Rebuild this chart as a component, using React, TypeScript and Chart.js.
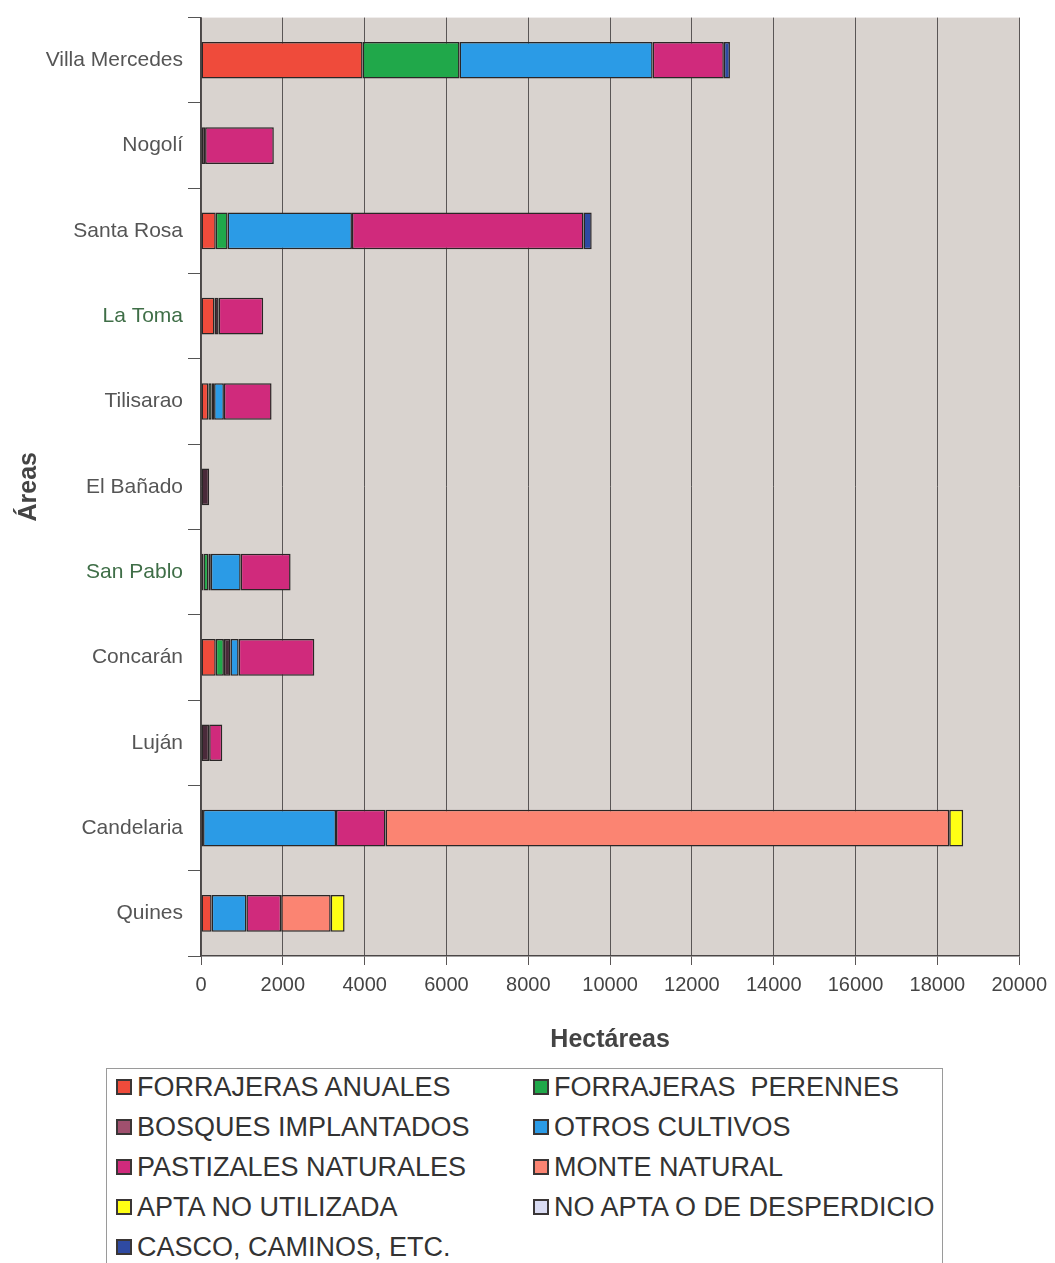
import { useEffect, useRef } from 'react';
import { Chart, registerables } from 'chart.js';

Chart.register(...registerables);

const areas = ['Villa Mercedes', 'Nogolí', 'Santa Rosa', 'La Toma', 'Tilisarao', 'El Bañado', 'San Pablo', 'Concarán', 'Luján', 'Candelaria', 'Quines'];
const greenLabels = ['La Toma', 'San Pablo'];

const forrajerasAnuales = [3950, 0, 360, 330, 180, 0, 60, 360, 0, 50, 260];
const forrajerasPerennes = [2370, 0, 290, 0, 80, 0, 120, 200, 0, 0, 0];
const bosquesImplantados = [0, 100, 0, 100, 60, 200, 60, 160, 200, 0, 0];
const otrosCultivos = [4720, 0, 3040, 0, 240, 0, 730, 200, 0, 3250, 850];
const pastizalesNaturales = [1740, 1680, 5660, 1090, 1165, 0, 1220, 1850, 320, 1210, 850];
const monteNatural = [0, 0, 0, 0, 0, 0, 0, 0, 0, 13780, 1210];
const aptaNoUtilizada = [0, 0, 0, 0, 0, 0, 0, 0, 0, 340, 340];
const noAptaDesperdicio = [0, 0, 0, 0, 0, 0, 0, 0, 0, 0, 0];
const cascoCaminos = [150, 0, 200, 0, 0, 0, 0, 0, 0, 0, 0];

const xMin = 0;
const xMax = 20000;
const xStep = 2000;

const seriesNames = [
  'FORRAJERAS ANUALES',
  'FORRAJERAS  PERENNES',
  'BOSQUES IMPLANTADOS',
  'OTROS CULTIVOS',
  'PASTIZALES NATURALES',
  'MONTE NATURAL',
  'APTA NO UTILIZADA',
  'NO APTA O DE DESPERDICIO',
  'CASCO, CAMINOS, ETC.',
];
const seriesValues = [
  forrajerasAnuales,
  forrajerasPerennes,
  bosquesImplantados,
  otrosCultivos,
  pastizalesNaturales,
  monteNatural,
  aptaNoUtilizada,
  noAptaDesperdicio,
  cascoCaminos,
];
const barColors = ['#ef4b3b', '#20a84a', '#4a2a3a', '#2b9be6', '#d02a7c', '#fb8472', '#ffff14', '#d9dbf2', '#2f4aa2'];
const legendColors = ['#ef4b3b', '#20a84a', '#a0506e', '#2b9be6', '#d02a7c', '#fb8472', '#ffff14', '#d9dbf2', '#2f4aa2'];

const FONT = '"Liberation Sans", Arial, Helvetica, sans-serif';
const CANVAS_H = 1060;

const plotBg = {
  id: 'plotBg',
  beforeDraw(chart: any) {
    const { ctx, chartArea } = chart;
    ctx.save();
    ctx.fillStyle = '#d9d3cf';
    ctx.fillRect(chartArea.left, chartArea.top, chartArea.right - chartArea.left, chartArea.bottom - chartArea.top);
    ctx.restore();
  },
};

export default function App() {
  const ref = useRef<HTMLCanvasElement>(null);

  useEffect(() => {
    if (!ref.current) return;
    const chart = new Chart(ref.current, {
      type: 'bar',
      data: {
        labels: areas,
        datasets: seriesNames.map((name, i) => ({
          label: name,
          data: seriesValues[i].map((v) => (v === 0 ? null : v)),
          backgroundColor: barColors[i],
          borderColor: '#2a2626',
          borderWidth: 1.5,
          borderSkipped: false,
          barPercentage: 0.43,
          categoryPercentage: 1,
        })),
      },
      plugins: [plotBg],
      options: {
        indexAxis: 'y',
        animation: false,
        responsive: false,
        maintainAspectRatio: false,
        layout: { padding: { top: 14, right: 35, left: 0, bottom: 0 } },
        plugins: {
          legend: { display: false },
          tooltip: { enabled: false },
        },
        scales: {
          x: {
            stacked: true,
            min: xMin,
            max: xMax,
            ticks: {
              stepSize: xStep,
              color: '#444',
              font: { family: FONT, size: 20 },
              padding: 8,
              maxRotation: 0,
              callback: (v: any) => String(v),
            },
            grid: { color: '#5a5656', lineWidth: 1, tickLength: 9, drawTicks: true },
            border: { color: '#4a4646', width: 1.5 },
            title: {
              display: true,
              text: 'Hectáreas',
              color: '#444',
              font: { family: FONT, size: 25, weight: 'bold' },
              padding: { top: 9, bottom: 5 },
            },
            afterFit: (s: any) => {
              s.height = CANVAS_H - 956;
            },
          },
          y: {
            stacked: true,
            ticks: {
              autoSkip: false,
              padding: 5,
              font: { family: FONT, size: 21 },
              color: (c: any) => (greenLabels.includes(areas[c.index]) ? '#3f6e47' : '#555'),
            },
            grid: { drawOnChartArea: false, drawTicks: true, tickLength: 13, color: '#555', offset: true },
            border: { color: '#4a4646', width: 1.5 },
            title: {
              display: true,
              text: 'Áreas',
              color: '#444',
              font: { family: FONT, size: 25, weight: 'bold' },
              padding: { top: 14, bottom: 0 },
            },
            afterFit: (s: any) => {
              s.width = 201;
            },
          },
        },
      },
    });
    return () => chart.destroy();
  }, []);

  return (
    <div
      style={{
        position: 'absolute',
        left: 0,
        top: 0,
        width: 1055,
        height: 1263,
        overflow: 'hidden',
        background: '#fff',
      }}
    >
      <canvas ref={ref} width={1055} height={CANVAS_H} style={{ position: 'absolute', left: 0, top: 0, width: 1055, height: CANVAS_H }} />
      <div
        style={{
          position: 'absolute',
          left: 106,
          top: 1068,
          width: 837,
          height: 220,
          border: '1.5px solid #9a9a9a',
          boxSizing: 'border-box',
          background: '#fff',
        }}
      >
        {seriesNames.map((name, i) => {
          const col = i % 2;
          const row = Math.floor(i / 2);
          return (
            <div
              key={name}
              style={{
                position: 'absolute',
                left: col === 0 ? 9 : 426,
                top: row * 40,
                height: 36,
                display: 'flex',
                alignItems: 'center',
                whiteSpace: 'pre',
                fontFamily: FONT,
                fontSize: 27,
                color: '#333',
              }}
            >
              <span
                style={{
                  display: 'inline-block',
                  width: 12,
                  height: 12,
                  border: '2px solid #3a3636',
                  background: legendColors[i],
                  marginRight: 5,
                }}
              />
              <span>{name}</span>
            </div>
          );
        })}
      </div>
    </div>
  );
}
